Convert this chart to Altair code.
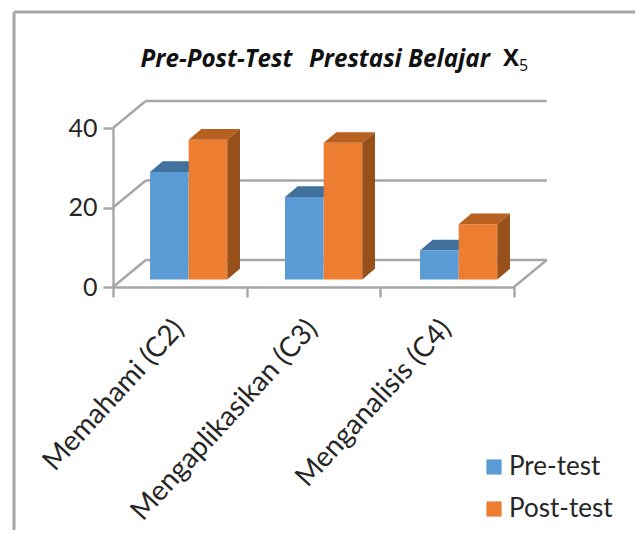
import json
import altair as alt
import pandas as pd

categories = ["Memahami (C2)", "Mengaplikasikan (C3)", "Menganalisis (C4)"]
pre_test = [27.1, 20.8, 7.3]
post_test = [35.2, 34.4, 13.9]
series = ["Pre-test", "Post-test"]
colors = ["#5b9bd5", "#ed7d31"]
top_colors = ["#41719c", "#b8601f"]
side_color = "#97501a"
grid_color = "#a6a6a6"
text_color = "#262626"
y_ticks = [0, 20, 40]
FONT = "Lato"
TITLE_FONT = "Open Sans"

# 3-D projection parameters, in data units
wall_dx, wall_dy = 0.245, 6.8      # depth of the floor and wall
bar_lift = 1.86                    # bars stand slightly behind the front edge
bar_dx, bar_dy = 0.095, 2.7        # depth of a bar
bar_start, bar_w, bar_pitch = 0.277, 0.289, 1.01    # position inside a category

fronts, tops, sides = [], [], []
for i, cat in enumerate(categories):
    for s, vals in enumerate([pre_test, post_test]):
        x0 = i * bar_pitch + bar_start + s * bar_w
        x1 = x0 + bar_w
        top = bar_lift + vals[i]
        fronts.append(dict(series=series[s], x=x0, x2=x1, y=bar_lift, y2=top, cat=cat))
        fid = f"{s}-{i}"
        for x, lo, hi in [(x0, top, top),
                          (x0 + bar_dx, top, top + bar_dy),
                          (x1, top, top + bar_dy),
                          (x1 + bar_dx, top + bar_dy, top + bar_dy)]:
            tops.append(dict(face=fid, series=series[s], x=x, y=lo, y2=hi))
        if s == 1:
            for x, lo, hi in [(x1, bar_lift, top),
                              (x1 + bar_dx, bar_lift + bar_dy, top + bar_dy)]:
                sides.append(dict(face=fid, x=x, y=lo, y2=hi))

n = len(categories)
grid = []
for t in y_ticks:
    grid += [dict(g=f"d{t}", x=0, y=t), dict(g=f"d{t}", x=wall_dx, y=t + wall_dy),
             dict(g=f"b{t}", x=wall_dx, y=t + wall_dy), dict(g=f"b{t}", x=n + wall_dx, y=t + wall_dy)]
grid += [dict(g="r", x=n, y=0), dict(g="r", x=n + wall_dx, y=wall_dy)]

x_scale = alt.Scale(domain=[0, n], nice=False, zero=False)
y_scale = alt.Scale(domain=[0, 40], nice=False)
y_axis_def = alt.Axis(title=None, orient="left", values=y_ticks, grid=False, domainColor=grid_color,
                      domainWidth=2.4, tickColor=grid_color, tickWidth=2.4, tickSize=10,
                      labelFont=FONT, labelFontSize=25, labelColor=text_color, labelPadding=6)
X = alt.X("x:Q", scale=x_scale, axis=None)
Y = alt.Y("y:Q", scale=y_scale, axis=y_axis_def)

grid_layer = alt.Chart(pd.DataFrame(grid)).mark_line(
    color=grid_color, strokeWidth=2.4).encode(x=X, y=Y, detail="g:N")

side_layer = alt.Chart(pd.DataFrame(sides)).mark_area(color=side_color, opacity=1).encode(
    x=X, y=Y, y2="y2:Q", detail="face:N")
front_layer = alt.Chart(pd.DataFrame(fronts)).mark_rect().encode(
    x=X, x2="x2:Q", y=Y, y2="y2:Q",
    color=alt.Color("series:N", scale=alt.Scale(domain=series, range=colors),
                    sort=series,
                    legend=alt.Legend(title=None, orient="none", legendX=368, legendY=326,
                                      symbolType="square", symbolSize=230, symbolStrokeWidth=0,
                                      labelFont=FONT, labelFontSize=26, labelColor=text_color,
                                      rowPadding=16, labelOffset=2, labelLimit=200)))

pre_tops = alt.Chart(pd.DataFrame([r for r in tops if r["series"] == series[0]]))
post_tops = alt.Chart(pd.DataFrame([r for r in tops if r["series"] == series[1]]))
top_fill = alt.Fill("series:N", scale=alt.Scale(domain=series, range=top_colors), legend=None)
pre_top = pre_tops.mark_area(opacity=1).encode(x=X, y=Y, y2="y2:Q", detail="face:N", fill=top_fill)
post_top = post_tops.mark_area(opacity=1).encode(x=X, y=Y, y2="y2:Q", detail="face:N", fill=top_fill)

# real axes
axis_df = pd.DataFrame({"x": [0.0], "y": [0.0]})
x_tick_axis = alt.Chart(axis_df).mark_point(opacity=0).encode(
    x=alt.X("x:Q", scale=x_scale,
            axis=alt.Axis(title=None, orient="bottom", values=list(range(n + 1)), labels=False, grid=False,
                          domainColor=grid_color, domainWidth=2.4, tickColor=grid_color,
                          tickWidth=2.4, tickSize=10)),
    y=Y)
x_label_axis = alt.Chart(axis_df).mark_point(opacity=0).encode(
    x=alt.X("x:Q", scale=x_scale,
            axis=alt.Axis(title=None, orient="bottom", values=[i + 0.5 for i in range(n)], ticks=False,
                          domain=False, grid=False, labelAngle=-47.5, labelAlign="right",
                          labelBaseline="middle", labelFont=FONT, labelFontSize=28,
                          labelColor=text_color, labelPadding=37, labelOffset=-1, labelLimit=400,
                          labelOverlap=False,
                          labelExpr=json.dumps(categories) + "[floor(datum.value)]")),
    y=Y)

# chart frame: left and top edges
frame_left = alt.Chart(axis_df).mark_rule(color=grid_color, strokeWidth=3).encode(
    x=alt.value(-99), y=alt.value(-116), y2=alt.value(410))
frame_top = alt.Chart(axis_df).mark_rule(color=grid_color, strokeWidth=3).encode(
    y=alt.value(-116), x=alt.value(-99), x2=alt.value(530))

x_text = alt.Chart(pd.DataFrame({"t": ["X"]})).mark_text(
    font=TITLE_FONT, fontSize=24, fontWeight="bold", color="#111111", align="left", baseline="alphabetic"
).encode(text="t:N", x=alt.value(390), y=alt.value(-62))
sub_text = alt.Chart(pd.DataFrame({"t": ["5"]})).mark_text(
    font=TITLE_FONT, fontSize=16, color="#111111", align="left", baseline="alphabetic"
).encode(text="t:N", x=alt.value(406), y=alt.value(-57))

chart = alt.layer(
    frame_left, frame_top, grid_layer, x_tick_axis, x_label_axis,
    pre_top, front_layer, post_top, side_layer, x_text, sub_text,
).resolve_axis(x="independent").resolve_scale(fill="independent").properties(
    width=401, height=159, background="white",
    padding={"left": 105, "top": 120, "right": 121, "bottom": 243},
    autosize=alt.AutoSizeParams(type="none"),
    title=alt.TitleParams("Pre-Post-Test\u00a0\u00a0\u2009Prestasi Belajar", font=TITLE_FONT, fontSize=24.2,
                          fontWeight="bold", fontStyle="italic", color="#111111", anchor="start",
                          dx=128, offset=-62),
).configure_view(stroke=None)

chart.save("out.html", embed_options={"renderer": "svg", "actions": False})
